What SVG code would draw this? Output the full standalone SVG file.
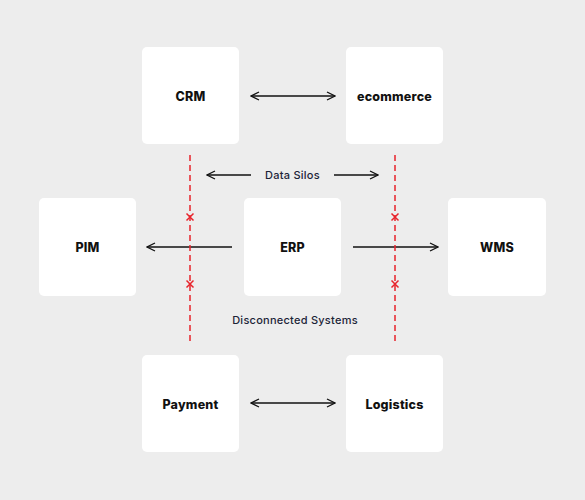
<svg xmlns="http://www.w3.org/2000/svg" width="585" height="500" viewBox="0 0 585 500">
<defs>
<style>
.box{fill:#ffffff;}
.lbl{font-family:Inter,"Open Sans","Liberation Sans",sans-serif;font-weight:800;font-size:12.5px;letter-spacing:0.2px;fill:#111111;text-anchor:middle;dominant-baseline:central;}
.note{font-family:Inter,"Open Sans","Liberation Sans",sans-serif;font-weight:500;font-size:11px;letter-spacing:0.25px;fill:#1c2438;text-anchor:middle;dominant-baseline:central;}
.arr{stroke:#111111;stroke-width:1.3;fill:none;}
.dash{stroke:#e8232b;stroke-width:1.5;stroke-dasharray:6 4;fill:none;}
.x{stroke:#e8232b;stroke-width:1.5;}
</style>
<marker id="ah" viewBox="0 0 10 10" refX="9" refY="5" markerWidth="10" markerHeight="10" markerUnits="userSpaceOnUse" orient="auto-start-reverse">
<path d="M1,1 L9,5 L1,9" fill="none" stroke="#111111" stroke-width="1.3"/>
</marker>
</defs>
<rect width="585" height="500" fill="#ededed"/>
<g id="connectors">
<line class="arr" x1="251" y1="96" x2="335" y2="96" marker-start="url(#ah)" marker-end="url(#ah)"/>
<line class="arr" x1="251" y1="403" x2="335" y2="403" marker-start="url(#ah)" marker-end="url(#ah)"/>
<line class="arr" x1="232" y1="247" x2="147" y2="247" marker-end="url(#ah)"/>
<line class="arr" x1="353" y1="247" x2="438" y2="247" marker-end="url(#ah)"/>
<line class="arr" x1="251" y1="175" x2="207" y2="175" marker-end="url(#ah)"/>
<line class="arr" x1="334" y1="175" x2="378" y2="175" marker-end="url(#ah)"/>
<line class="dash" x1="190" y1="155" x2="190" y2="345"/>
<line class="dash" x1="395" y1="155" x2="395" y2="345"/>
<g id="xmarks">
<path class="x" d="M186.5,213.5 L193.5,220.5 M193.5,213.5 L186.5,220.5"/>
<path class="x" d="M186.5,280.5 L193.5,287.5 M193.5,280.5 L186.5,287.5"/>
<path class="x" d="M391.5,213.5 L398.5,220.5 M398.5,213.5 L391.5,220.5"/>
<path class="x" d="M391.5,280.5 L398.5,287.5 M398.5,280.5 L391.5,287.5"/>
</g>
</g>
<g id="crm"><rect class="box" x="142" y="47" width="97" height="97" rx="5"/><text class="lbl" x="190.5" y="96">CRM</text></g>
<g id="ecommerce"><rect class="box" x="346" y="47" width="97" height="97" rx="5"/><text class="lbl" x="394.5" y="96">ecommerce</text></g>
<g id="pim"><rect class="box" x="39" y="198" width="97" height="98" rx="5"/><text class="lbl" x="87.5" y="247">PIM</text></g>
<g id="erp"><rect class="box" x="244" y="198" width="97" height="98" rx="5"/><text class="lbl" x="292.5" y="247">ERP</text></g>
<g id="wms"><rect class="box" x="448" y="198" width="98" height="98" rx="5"/><text class="lbl" x="497" y="247">WMS</text></g>
<g id="payment"><rect class="box" x="142" y="355" width="97" height="97" rx="5"/><text class="lbl" x="190.5" y="404">Payment</text></g>
<g id="logistics"><rect class="box" x="346" y="355" width="97" height="97" rx="5"/><text class="lbl" x="394.5" y="404">Logistics</text></g>
<g id="labels">
<text class="note" x="292.5" y="175">Data Silos</text>
<text class="note" x="295" y="320">Disconnected Systems</text>
</g>
</svg>
